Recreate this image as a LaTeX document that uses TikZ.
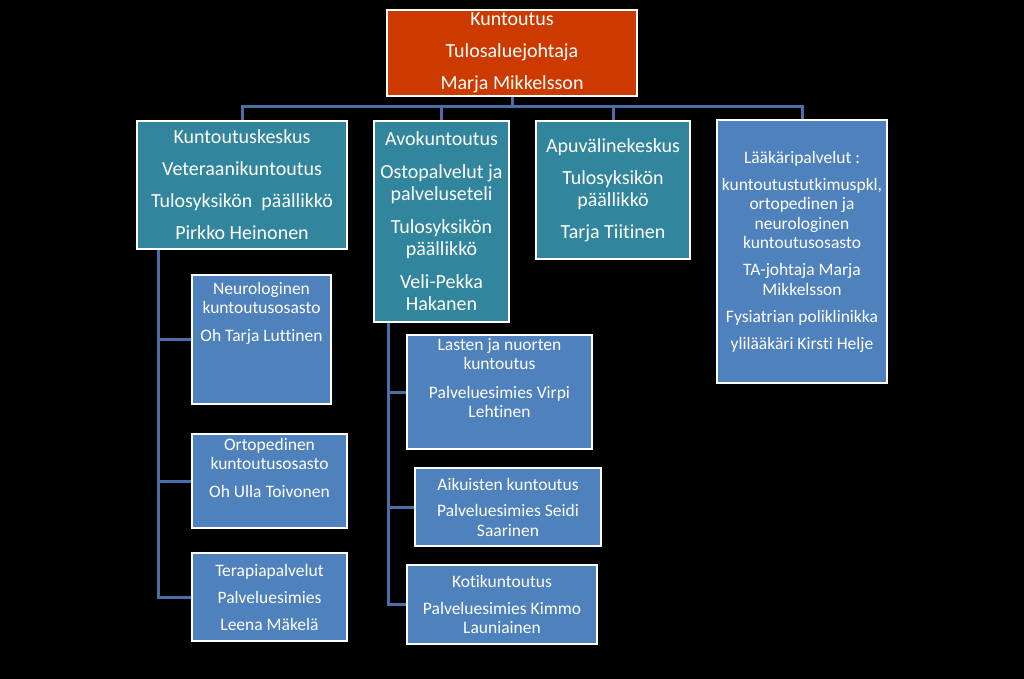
\documentclass[tikz,border=0pt]{standalone}
\usepackage{fontspec}
\setmainfont{Carlito}[Ligatures=NoCommon]
\usepackage{xcolor}
\definecolor{headred}{RGB}{204,58,0}
\definecolor{unitteal}{RGB}{49,133,156}
\definecolor{subblue}{RGB}{79,129,189}
\definecolor{linkblue}{RGB}{74,110,165}

\begin{document}
\begin{tikzpicture}[
  x=1pt, y=-1pt,
  box/.style={draw=white, line width=1.8pt, text=white, align=center,
              inner sep=3pt},
  head/.style={box, fill=headred, font=\fontsize{20}{22}\selectfont},
  unit/.style={box, fill=unitteal, font=\fontsize{20}{22}\selectfont},
  sub/.style={box, fill=subblue, font=\fontsize{17.5}{19.5}\selectfont},
  conn/.style={draw=linkblue, line width=3pt},
]
  \fill[black] (0,0) rectangle (1024,679);
  \useasboundingbox (0,0) rectangle (1024,679);
  %% top level
  \node[head, minimum width=250pt, minimum height=82pt] (T) at (512,53)
    {Kuntoutus\\[10pt]Tulosaluejohtaja\\[10pt]Marja Mikkelsson};
  %% second level
  \node[unit, minimum width=210pt, minimum height=128pt] (KK) at (242,185)
    {Kuntoutuskeskus\\[10pt]Veteraanikuntoutus\\[10pt]%
     Tulosyksikön\ \ päällikkö\\[10pt]Pirkko Heinonen};
  \node[unit, minimum width=135pt, minimum height=201pt] (AVO) at (441.5,221.5)
    {Avokuntoutus\\[11pt]Ostopalvelut ja\\palveluseteli\\[11pt]%
     Tulosyksikön\\päällikkö\\[11pt]Veli-Pekka\\Hakanen};
  \node[unit, minimum width=154pt, minimum height=138pt] (APU) at (613,190)
    {Apuvälinekeskus\\[10pt]Tulosyksikön\\päällikkö\\[10pt]Tarja Tiitinen};
  \node[sub, minimum width=170pt, minimum height=263pt] (LP) at (802,251.5)
    {Lääkäripalvelut :\\[7.5pt]kuntoutustutkimuspkl,\\ortopedinen ja\\%
     neurologinen\\kuntoutusosasto\\[7.5pt]TA-johtaja Marja\\Mikkelsson\\[7.5pt]%
     Fysiatrian poliklinikka\\[7.5pt]ylilääkäri Kirsti Helje};
  %% Kuntoutuskeskus units
  \node[sub, minimum width=139pt, minimum height=129pt] (NEU) at (261.5,339.5)
    {Neurologinen\\kuntoutusosasto\\[8pt]Oh Tarja Luttinen\\[36pt]\mbox{}};
  \node[sub, minimum width=155pt, minimum height=94pt] (ORT) at (269.5,481)
    {Ortopedinen\\kuntoutusosasto\\[8pt]Oh Ulla Toivonen\\[7pt]\mbox{}};
  \node[sub, minimum width=155pt, minimum height=88pt] (TER) at (269.5,597)
    {Terapiapalvelut\\[7.5pt]Palveluesimies\\[7.5pt]Leena Mäkelä};
  %% Avokuntoutus units
  \node[sub, minimum width=185pt, minimum height=112pt] (LAS) at (499.5,392)
    {Lasten ja nuorten\\kuntoutus\\[9pt]Palveluesimies Virpi\\Lehtinen\\[9pt]\mbox{}};
  \node[sub, minimum width=186pt, minimum height=78pt] (AIK) at (508,507)
    {Aikuisten kuntoutus\\[7pt]Palveluesimies Seidi\\Saarinen};
  \node[sub, minimum width=190pt, minimum height=79pt] (KOT) at (502,604.5)
    {Kotikuntoutus\\[7pt]Palveluesimies Kimmo\\Launiainen};
  %% connectors
  \coordinate (bus) at (512,107);
  \coordinate (ls) at (158,250);
  \coordinate (ms) at (388,323);
  \draw[conn] (T.south) -- (bus);
  \draw[conn] (bus) -| (KK.north);
  \draw[conn] (bus) -| (AVO.north);
  \draw[conn] (bus) -| (APU.north);
  \draw[conn] (bus) -| (LP.north);
  \draw[conn] (ls) |- (NEU.west);
  \draw[conn] (ls) |- (ORT.west);
  \draw[conn] (ls) |- (TER.west);
  \draw[conn] (ms) |- (LAS.west);
  \draw[conn] (ms) |- (AIK.west);
  \draw[conn] (ms) |- (KOT.west);
\end{tikzpicture}
\end{document}
